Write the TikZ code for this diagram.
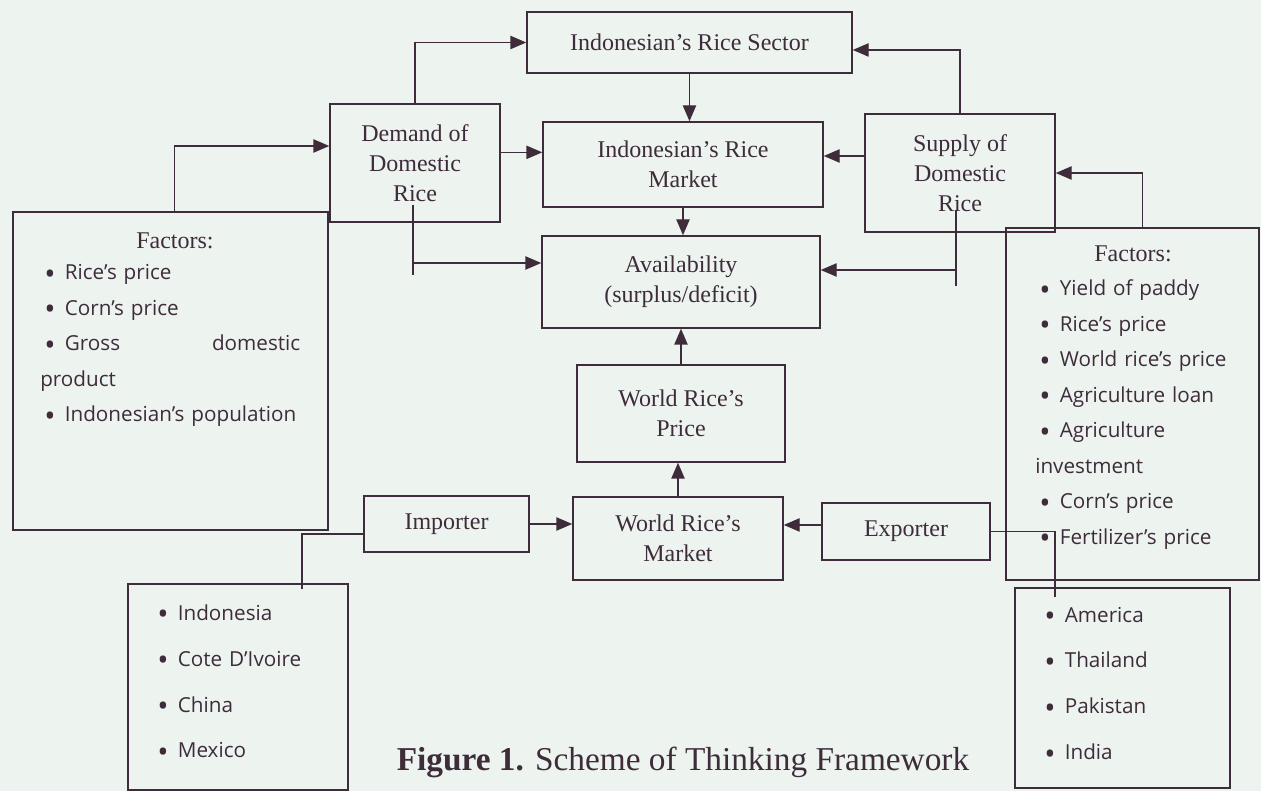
\documentclass[tikz,border=0pt]{standalone}
\usepackage{fontspec}
\usepackage{graphicx}
\setmainfont{Liberation Serif}
\newfontfamily\listfont[Ligatures=TeX]{Open Sans}
\usetikzlibrary{arrows.meta}
\definecolor{ink}{RGB}{62,44,58}
\definecolor{paper}{RGB}{237,243,239}
\newcommand{\itm}{\hspace*{3pt}\raisebox{-0.4ex}{\scalebox{1.45}{\textbullet}}\hspace{7pt}}

\begin{document}
\begin{tikzpicture}[x=0.75pt,y=0.75pt,yscale=-1,xscale=1,
    box/.style={draw=ink, line width=1.1pt, inner sep=0pt, text=ink, align=center, font=\fontsize{18}{22.5}\selectfont},
    sz/.style 2 args={minimum width=#1*0.75pt, minimum height=#2*0.75pt},
    listtxt/.style={inner sep=0pt, text=ink, align=left, anchor=base west, font=\listfont\fontsize{15.5}{26.6}\selectfont},
    cntry/.style={listtxt, font=\listfont\fontsize{15.5}{34.5}\selectfont},
    link/.style={draw=ink, line width=1.1pt},
    arr/.style={link, -{Triangle[length=12pt,width=10pt]}},
  ]
    %set diagram to the size of the scan
    \path[use as bounding box, fill=paper] (0,0) rectangle (1261,791);

    %Shape: Rectangle [sector]
    \node[box, sz={325}{61}] (sector) at (689.5,42.5) {Indonesian's Rice Sector};
    %Shape: Rectangle [demand]
    \node[box, sz={170}{118}] (demand) at (415,163) {Demand of\\Domestic\\Rice};
    %Shape: Rectangle [market]
    \node[box, sz={280}{85}] (market) at (683,164.5) {Indonesian's Rice\\Market};
    %Shape: Rectangle [supply]
    \node[box, sz={190}{118}] (supply) at (960,173) {Supply of\\Domestic\\Rice};
    %Shape: Rectangle [avail]
    \node[box, sz={278}{92}] (avail) at (681,282) {Availability\\(surplus/deficit)};
    %Shape: Rectangle [lfac]
    \node[box, sz={315}{318}] (lfac) at (170.5,371) {};
    %Shape: Rectangle [rfac]
    \node[box, sz={253}{352}] (rfac) at (1132.5,404) {};
    %Shape: Rectangle [wprice]
    \node[box, sz={208}{97}] (wprice) at (681,413.5) {World Rice's\\Price};
    %Shape: Rectangle [importer]
    \node[box, sz={165}{56}] (importer) at (446.5,524) {Importer};
    %Shape: Rectangle [wmarket]
    \node[box, sz={210}{83}] (wmarket) at (678,538.5) {World Rice's\\Market};
    %Shape: Rectangle [exporter]
    \node[box, sz={168}{57}] (exporter) at (906,531.5) {Exporter};
    %Shape: Rectangle [imc]
    \node[box, sz={220}{206}] (imc) at (238,687) {};
    %Shape: Rectangle [exc]
    \node[box, sz={215}{200}] (exc) at (1122.5,688) {};

    % Text Node
    \node[box, draw=none] (lfachead) at (175,241) {Factors:};
    % Text Node
    \node[listtxt, text width=195pt] (lfaclist) at (40,280) {\itm Rice's price\\ \itm Corn's price\\ \itm Gross\hfill domestic\\ product\\ \itm Indonesian's population};
    % Text Node
    \node[box, draw=none] (rfachead) at (1133,254) {Factors:};
    % Text Node
    \node[listtxt, text width=170pt] (rfaclist) at (1035,296) {\itm Yield of paddy\\ \itm Rice's price\\ \itm World rice's price\\ \itm Agriculture loan\\ \itm Agriculture\\ investment\\ \itm Corn's price\\ \itm Fertilizer's price};
    % Text Node
    \node[cntry, text width=140pt] (imclist) at (153,620) {\itm Indonesia\\ \itm Cote D'Ivoire\\ \itm China\\ \itm Mexico};
    % Text Node
    \node[cntry, text width=140pt] (exclist) at (1040,622) {\itm America\\ \itm Thailand\\ \itm Pakistan\\ \itm India};
    % Text Node
    \node[text=ink, anchor=base, inner sep=0pt, font=\fontsize{25}{30}\selectfont] (caption) at (683,770) {\textbf{Figure 1.} Scheme of Thinking Framework};

    %free ends of the lines into the boxes
    \coordinate (dtap) at (413,205);
    \coordinate (dend) at (413,275);
    \coordinate (dturn) at (413,263);
    \coordinate (stap) at (956,210);
    \coordinate (send) at (956,286);
    \coordinate (sturn) at (956,270);

    %Straight Lines (yshift runs down here, yscale=-1)
    \draw[arr] (demand.north) |- (sector.west);
    \draw[arr] (supply.north) |- ([yshift=5.6pt]sector.east);
    \draw[arr] (sector.south) -- (sector.south |- market.north);
    \draw[arr] ([yshift=-8pt]demand.east) -- ([yshift=-8pt]demand.east -| market.west);
    \draw[arr] ([yshift=-12.75pt]supply.west) -- ([yshift=-12.75pt]supply.west -| market.east);
    \draw[arr] (market.south) -- (market.south |- avail.north);
    \draw[link] (dtap) -- (dend);
    \draw[arr] (dturn) -- (dturn -| avail.west);
    \draw[link] (stap) -- (send);
    \draw[arr] (sturn) -- (sturn -| avail.east);
    \draw[arr] ([xshift=3pt]lfac.north) |- ([yshift=-12.75pt]demand.west);
    \draw[arr] ([xshift=7.5pt]rfac.north) |- (supply.east);
    \draw[arr] (wprice.north) -- (wprice.north |- avail.south);
    \draw[arr] (wmarket.north) -- (wmarket.north |- wprice.south);
    \draw[arr] (importer.east) -- (importer.east -| wmarket.west);
    \draw[arr] ([yshift=-4.9pt]exporter.west) -- ([yshift=-4.9pt]exporter.west -| wmarket.east);
    \draw[link] ([xshift=48pt,yshift=4.5pt]imc.north) |- ([yshift=7.5pt]importer.west);
    \draw[link] (exporter.east) -| ([xshift=-50.6pt,yshift=7.5pt]exc.north);

\end{tikzpicture}
\end{document}
